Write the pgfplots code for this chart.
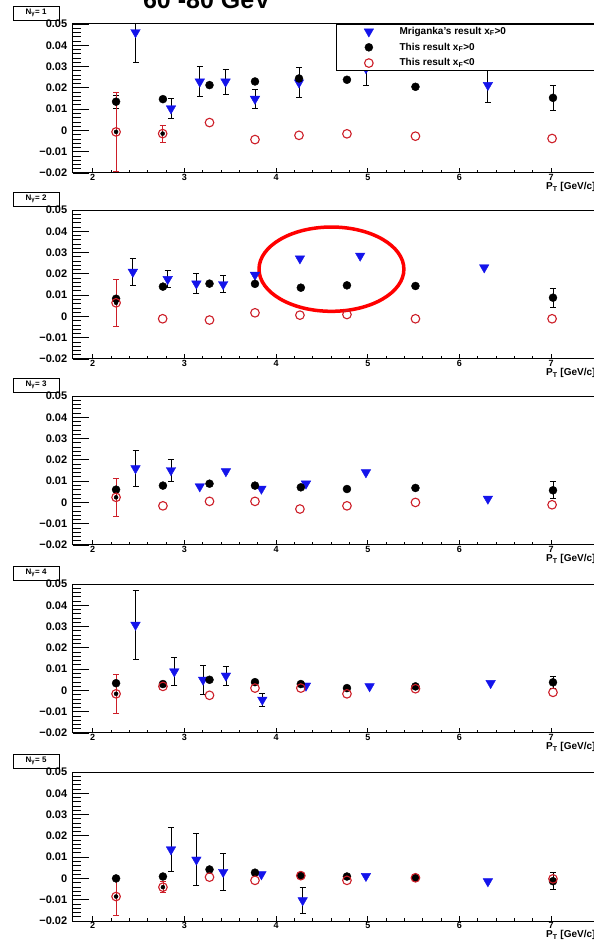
\documentclass[border=0pt]{standalone}
\usepackage{pgfplots}
\pgfplotsset{compat=1.18}
\usepackage{fontspec}
\setmainfont{Liberation Sans}

\definecolor{rootblue}{RGB}{20,20,235}
\definecolor{rootred}{RGB}{205,30,40}

\pgfplotsset{
  frame/.style={scale only axis, width=524.3pt, height=149pt,
    xmin=1.782, xmax=7.5, ymin=-0.02, ymax=0.05,
    axis line style={line width=1pt, black}, tick style={line width=0.8pt, black},
    tick align=inside, tick pos=left,
    /pgf/number format/assume math mode=true},
  xframe/.style={frame, xtick={2,3,4,5,6,7}, minor x tick num=4, ytick=\empty,
    major tick length=5pt, minor tick length=3pt,
    xticklabel style={font=\bfseries\fontsize{9}{10}\selectfont, yshift=2pt}},
  yframe/.style={frame, xtick=\empty, scaled y ticks=false,
    ytick={-0.02,-0.01,0,0.01,0.02,0.03,0.04,0.05},
    yticklabels={−0.02,−0.01,0,0.01,0.02,0.03,0.04,0.05},
    minor y tick num=4, major tick length=16pt, minor tick length=8pt,
    yticklabel style={font=\bfseries\fontsize{11}{12}\selectfont, xshift=-2pt}},
  errb/.style={only marks, mark=none, forget plot,
    error bars/.cd, y dir=both, y explicit,
    error bar style={#1, line width=0.8pt},
    error mark options={rotate=90, #1, line width=0.8pt, mark size=3pt}},
  mrig/.style={only marks, mark=triangle*, mark size=5.5pt, color=rootblue,
    mark options={rotate=180}},
  pos/.style={only marks, mark=*, mark size=4pt, color=black},
  neg/.style={only marks, mark=o, mark size=4.3pt, color=rootred,
    mark options={line width=1.1pt}},
}

\newcommand{\frames}[2]{%
  \begin{axis}[xframe, at={(72.7pt,#1pt)}]\end{axis}
  \node[draw=black, line width=0.9pt, fill=white, minimum width=46pt, minimum height=14pt,
        inner sep=0pt, font=\bfseries\fontsize{8}{9}\selectfont] at (36pt,{#1pt+160pt})
        {N\textsubscript{γ}= #2};
  \node[anchor=west, inner sep=0pt, font=\bfseries\fontsize{10}{11}\selectfont]
        at (546pt,{#1pt-14pt}) {P\textsubscript{T} [GeV/c]};
}

\begin{document}
\begin{tikzpicture}

\node[anchor=base, inner sep=0pt, font=\bfseries\fontsize{25}{28}\selectfont] at (207pt,931.7pt) {60 -80 GeV};

% ---- N = 1
\frames{767}{1}
\begin{axis}[yframe, at={(72.7pt,767pt)},
  legend style={at={(0.502,1)}, anchor=north west, fill=white, draw=black,
    font=\bfseries\fontsize{10}{11}\selectfont, inner xsep=28pt, inner ysep=1pt,
    row sep=3pt, /tikz/every odd column/.append style={column sep=24pt}},
  legend cell align=left]
\addplot[errb=black] table[x=x, y=y, y error=e] {
x y e
2.467 0.0461 0.014
2.854 0.0103 0.0047
3.168 0.0229 0.007
3.449 0.0229 0.006
3.77 0.0148 0.0043
4.25 0.0225 0.0072
4.98 0.0292 0.008
6.31 0.0213 0.008
2.255 0.0135 0.003
7.02 0.0153 0.006
};
\addplot[errb=rootred] table[x=x, y=y, y error=e] {
x y e
2.255 -0.0007 0.0187
2.763 -0.0015 0.004
};
\addplot[mrig] table[x=x, y=y] {
x y
2.467 0.0461
2.854 0.0103
3.168 0.0229
3.449 0.0229
3.77 0.0148
4.25 0.0225
4.98 0.0292
6.31 0.0213
};
\addlegendentry{\makebox[220pt][l]{Mriganka's result x\textsubscript{F}>0}}
\addplot[pos] table[x=x, y=y] {
x y
2.255 0.0135
2.766 0.0147
3.274 0.0213
3.77 0.0230
4.25 0.0244
4.773 0.0238
5.52 0.0205
7.02 0.0153
};
\addlegendentry{This result x\textsubscript{F}>0}
\addplot[neg] table[x=x, y=y] {
x y
2.255 -0.0007
2.763 -0.0015
3.274 0.0037
3.77 -0.0043
4.25 -0.0023
4.773 -0.0016
5.52 -0.0027
7.01 -0.0038
};
\addlegendentry{This result x\textsubscript{F}<0}
\end{axis}

% ---- N = 2
\frames{581}{2}
\begin{axis}[yframe, at={(72.7pt,581pt)}]
\addplot[errb=black] table[x=x, y=y, y error=e] {
x y e
2.438 0.0209 0.0063
2.818 0.0175 0.0040
3.131 0.0154 0.0046
3.423 0.0151 0.0040
7.02 0.0088 0.0044
};
\addplot[errb=rootred] table[x=x, y=y, y error=e] {
x y e
2.255 0.0064 0.011
};
\addplot[mrig] table[x=x, y=y] {
x y
2.438 0.0209
2.818 0.0175
3.131 0.0154
3.423 0.0151
3.77 0.0195
4.26 0.0272
4.917 0.0285
6.27 0.0230
};
\addplot[pos] table[x=x, y=y] {
x y
2.255 0.0083
2.766 0.0140
3.274 0.0154
3.77 0.0153
4.27 0.0135
4.773 0.0146
5.52 0.0143
7.02 0.0088
};
\addplot[neg] table[x=x, y=y] {
x y
2.255 0.0064
2.763 -0.0011
3.274 -0.0017
3.77 0.0017
4.26 0.0006
4.773 0.0009
5.52 -0.0011
7.01 -0.0011
};
\draw[red, line width=3.5pt] (axis cs:4.604,0.0222) ellipse [x radius=0.79, y radius=0.0198];
\end{axis}

% ---- N = 3
\frames{395}{3}
\begin{axis}[yframe, at={(72.7pt,395pt)}]
\addplot[errb=black] table[x=x, y=y, y error=e] {
x y e
2.467 0.0160 0.0085
2.854 0.0151 0.0050
7.02 0.0057 0.004
};
\addplot[errb=rootred] table[x=x, y=y, y error=e] {
x y e
2.255 0.0024 0.009
};
\addplot[mrig] table[x=x, y=y] {
x y
2.467 0.0160
2.854 0.0151
3.168 0.0075
3.453 0.0146
3.84 0.0064
4.326 0.0088
4.98 0.0141
6.31 0.0017
};
\addplot[pos] table[x=x, y=y] {
x y
2.255 0.0060
2.766 0.0079
3.274 0.0088
3.77 0.0079
4.27 0.0071
4.773 0.0063
5.52 0.0068
7.02 0.0057
};
\addplot[neg] table[x=x, y=y] {
x y
2.255 0.0024
2.766 -0.0016
3.274 0.0005
3.77 0.0005
4.26 -0.0031
4.773 -0.0016
5.52 0.0000
7.01 -0.0011
};
\end{axis}

% ---- N = 4
\frames{207}{4}
\begin{axis}[yframe, at={(72.7pt,207pt)}]
\addplot[errb=black] table[x=x, y=y, y error=e] {
x y e
2.467 0.0308 0.016
2.89 0.0089 0.0065
3.204 0.0050 0.0068
3.453 0.0069 0.0045
3.85 -0.0044 0.003
7.02 0.0038 0.003
};
\addplot[errb=rootred] table[x=x, y=y, y error=e] {
x y e
2.255 -0.0016 0.009
};
\addplot[mrig] table[x=x, y=y] {
x y
2.467 0.0308
2.89 0.0089
3.204 0.0050
3.453 0.0069
3.85 -0.0044
4.326 0.0022
5.02 0.0019
6.34 0.0034
};
\addplot[pos] table[x=x, y=y] {
x y
2.255 0.0034
2.766 0.0030
3.274 0.0050
3.77 0.0039
4.27 0.0030
4.773 0.0011
5.52 0.0019
7.02 0.0038
};
\addplot[neg] table[x=x, y=y] {
x y
2.255 -0.0016
2.766 0.0019
3.274 -0.0023
3.77 0.0011
4.27 0.0011
4.773 -0.0016
5.52 0.0008
7.02 -0.0009
};
\end{axis}

% ---- N = 5
\frames{19}{5}
\begin{axis}[yframe, at={(72.7pt,19pt)}]
\addplot[errb=black] table[x=x, y=y, y error=e] {
x y e
2.854 0.0136 0.0102
3.131 0.0088 0.0123
3.423 0.0030 0.0086
4.29 -0.0103 0.0063
7.02 -0.0013 0.004
};
\addplot[errb=rootred] table[x=x, y=y, y error=e] {
x y e
2.255 -0.0085 0.009
2.766 -0.0041 0.0025
};
\addplot[mrig] table[x=x, y=y] {
x y
2.854 0.0136
3.131 0.0088
3.423 0.0030
3.84 0.0019
4.29 -0.0103
4.98 0.0011
6.31 -0.0014
};
\addplot[pos] table[x=x, y=y] {
x y
2.255 0.0000
2.766 0.0009
3.274 0.0042
3.77 0.0027
4.27 0.0014
4.773 0.0009
5.52 0.0003
7.02 -0.0013
};
\addplot[neg] table[x=x, y=y] {
x y
2.255 -0.0085
2.766 -0.0041
3.274 0.0006
3.77 -0.0009
4.27 0.0013
4.773 -0.0009
5.52 0.0003
7.02 -0.0002
};
\end{axis}

\pgfresetboundingbox
\path[use as bounding box] (0pt,0pt) rectangle (594pt,940pt);
\end{tikzpicture}
\end{document}
